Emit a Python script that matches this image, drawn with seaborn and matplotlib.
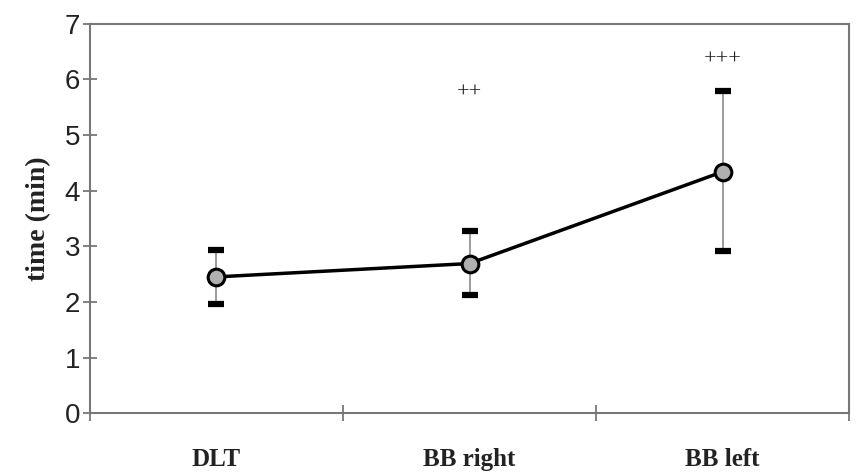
import matplotlib
matplotlib.use("Agg")
import matplotlib.pyplot as plt
import seaborn as sns
import numpy as np
from matplotlib.ticker import FixedLocator

categories = ["DLT", "BB right", "BB left"]
means = [2.45, 2.69, 4.34]
err_low = [1.96, 2.12, 2.92]
err_high = [2.93, 3.28, 5.79]
signif = ["", "++", "+++"]
signif_y = [0, 5.75, 6.35]
y_ticks = [0, 1, 2, 3, 4, 5, 6, 7]

sns.set_style("white")
fig = plt.figure(figsize=(8.56, 4.76), dpi=100)
ax = fig.add_axes([0.105, 0.132, 0.887, 0.818])

xpos = np.arange(len(categories))
lower = np.array(means) - np.array(err_low)
upper = np.array(err_high) - np.array(means)
_, caps, bars = ax.errorbar(xpos, means, yerr=[lower, upper], fmt="none",
                            ecolor="#8a8a8a", elinewidth=1.2, capsize=6,
                            capthick=4.5, zorder=2)
for c in caps:
    c.set_color("black")
    c.set_markeredgecolor("black")
    c.set_markerfacecolor("black")

sns.pointplot(x=categories, y=means, color="black", linewidth=2.5,
              marker="o", markersize=12, markerfacecolor="#b0b0b0",
              markeredgecolor="black", markeredgewidth=2.2, errorbar=None,
              ax=ax, zorder=3)

for i, (s, sy) in enumerate(zip(signif, signif_y)):
    if s:
        ax.text(xpos[i], sy, s, ha="center", va="center",
                fontsize=16, family="Liberation Serif", color="#222222")

ax.set_xlim(-0.5, 2.5)
ax.set_ylim(0, 7)
ax.set_yticks(y_ticks)
ax.set_yticklabels([str(t) for t in y_ticks], family="Liberation Sans",
                   fontsize=20, color="#222222")
ax.tick_params(axis="y", direction="inout", length=10, width=1.3,
               color="#777777", pad=2, left=True)

ax.xaxis.set_major_locator(FixedLocator([-0.5, 0.5, 1.5, 2.5]))
ax.xaxis.set_minor_locator(FixedLocator(list(xpos)))
ax.set_xticklabels([], minor=False)
ax.set_xticklabels(categories, minor=True, family="Liberation Serif",
                   fontweight="bold", fontsize=18, color="#222222")
ax.tick_params(axis="x", which="major", direction="inout", length=12,
               width=1.3, color="#777777", bottom=True)
ax.tick_params(axis="x", which="minor", length=0, pad=25, bottom=True)

ax.set_xlabel("")
ax.set_ylabel("time (min)", family="Liberation Serif", fontweight="bold",
              fontsize=20, color="#222222", labelpad=10)

for sp in ax.spines.values():
    sp.set_visible(True)
    sp.set_color("#777777")
    sp.set_linewidth(1.5)

fig.savefig("out.png", dpi=100, facecolor="white")
